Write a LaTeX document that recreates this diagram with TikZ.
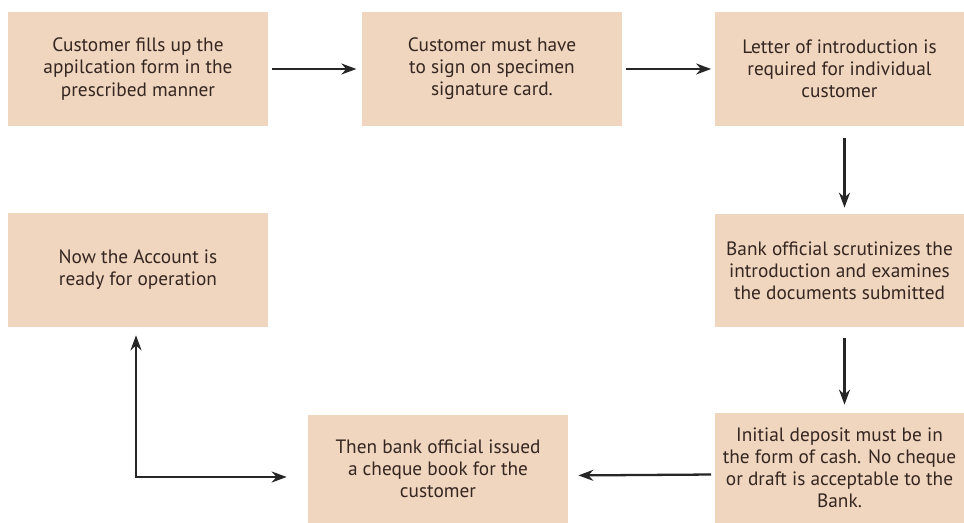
\documentclass[tikz,border=0pt]{standalone}
\usepackage{fontspec}
\setmainfont{PT Sans}
\usetikzlibrary{arrows.meta, positioning}
\usepackage{xcolor}
\definecolor{boxfill}{RGB}{241,214,191}
\definecolor{boxtext}{RGB}{52,38,33}

\begin{document}
\begin{tikzpicture}[
    stage/.style={fill=boxfill, text=boxtext, align=center,
                  minimum width=5.2cm, minimum height=2.28cm,
                  font=\fontsize{11}{12.6}\selectfont},
    flow/.style={draw=black!85, line width=1.3pt, -{Stealth[length=0.3cm,width=0.22cm]}}
  ]
  \useasboundingbox (0,0) rectangle (19.28,-10.46); % page size

  % top row
  \node[stage] (fill)   at (2.76,-1.38)  {Customer fills up the\\appilcation form in the\\prescribed manner};
  \node[stage] (sign)   at (9.84,-1.38)  {Customer must have\\to sign on specimen\\signature card.};
  \node[stage, minimum width=4.98cm] (letter) at (16.79,-1.38) {Letter of introduction is\\required for individual\\customer};

  % middle row
  \node[stage] (ready)  at (2.76,-5.40)  {Now the Account is\\ready for operation};
  \node[stage, minimum width=4.98cm, minimum height=2.26cm] (check) at (16.79,-5.41) {Bank official scrutinizes the\\introduction and examines\\the documents submitted};

  % bottom row (cut by the page)
  \node[stage, minimum height=2.16cm] (cheque) at (8.76,-9.38) {Then bank official issued\\a cheque book for the\\customer};
  \node[stage, minimum width=4.98cm, minimum height=2.2cm] (deposit) at (16.79,-9.36) {Initial deposit must be in\\the form of cash. No cheque\\or draft is acceptable to the\\Bank.};

  \draw[flow, shorten <=2pt, shorten >=3pt] (fill) -- (sign);
  \draw[flow, shorten <=2pt, shorten >=2pt] (sign) -- (letter);
  \draw[flow, shorten <=0.24cm, shorten >=0.12cm] ([xshift=0.1cm]letter.south) -- ([xshift=0.1cm]check.north);
  \draw[flow, shorten <=0.22cm, shorten >=0.16cm] ([xshift=0.1cm]check.south) -- ([xshift=0.1cm]deposit.north);
  \draw[flow, shorten <=2pt, shorten >=0.2cm] ([yshift=-0.13cm]deposit.west) -- ([yshift=-0.13cm]cheque.east);
  \draw[flow, {Stealth[length=0.3cm,width=0.22cm]}-{Stealth[length=0.3cm,width=0.22cm]},
        shorten <=0.42cm, shorten >=0.16cm] ([yshift=-0.16cm]cheque.west) -| ([xshift=-0.04cm]ready.south);
\end{tikzpicture}
\end{document}
